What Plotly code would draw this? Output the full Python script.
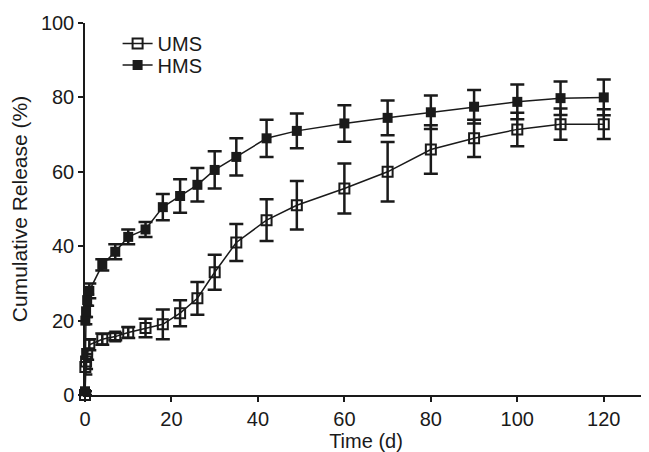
import plotly.graph_objects as go

time_d = [0, 0.083, 0.25, 0.5, 1, 4, 7, 10, 14, 18, 22, 26, 30, 35, 42, 49, 60, 70, 80, 90, 100, 110, 120]

ums_release = [0, 7.5, 9, 11, 13.5, 15, 15.7, 16.8, 18, 19, 22, 26, 33, 41, 47, 51, 55.5, 60, 66, 69, 71.4, 72.8, 72.8]
ums_error = [0, 2, 2, 1.5, 1.5, 1.5, 1, 1.5, 2.5, 4, 3.5, 4.4, 4.7, 5, 5.6, 6.5, 6.7, 8, 6.5, 5, 4.5, 4.2, 4]

hms_release = [1, 20, 22.5, 25.5, 28, 35, 38.5, 42.5, 44.5, 50.5, 53.5, 56.5, 60.5, 64, 69, 71, 73, 74.5, 76, 77.5, 78.8, 79.8, 80]
hms_error = [0, 1, 1.5, 1.5, 2, 1.5, 2, 2, 2, 3.5, 4.5, 4.5, 5, 5, 5, 4.7, 4.9, 4.7, 4.5, 4.5, 4.7, 4.5, 4.8]

x_ticks = [0, 20, 40, 60, 80, 100, 120]
y_ticks = [0, 20, 40, 60, 80, 100]

FONT = "Liberation Sans, Arial, sans-serif"
INK = "#1a1a1a"

fig = go.Figure()
fig.add_trace(go.Scatter(
    x=time_d, y=ums_release, name="UMS", mode="lines+markers",
    line=dict(color=INK, width=1.5),
    marker=dict(symbol="square-open", size=10, color=INK, line=dict(width=2, color=INK)),
    error_y=dict(type="data", array=ums_error, visible=True, color=INK, thickness=2.5, width=7),
    cliponaxis=False, legend="legend",
))
fig.add_trace(go.Scatter(
    x=time_d, y=hms_release, name="HMS", mode="lines+markers",
    line=dict(color=INK, width=1.5),
    marker=dict(symbol="square", size=10, color=INK, line=dict(width=0)),
    error_y=dict(type="data", array=hms_error, visible=True, color=INK, thickness=2.5, width=7),
    cliponaxis=False, legend="legend2",
))

leg_common = dict(x=0.058, xanchor="left", yanchor="middle",
                  bgcolor="rgba(0,0,0,0)", font=dict(size=20), itemwidth=30)

fig.update_layout(
    width=641, height=444,
    margin=dict(l=77, r=2, t=15, b=57),
    paper_bgcolor="white", plot_bgcolor="white",
    font=dict(family=FONT, size=20, color=INK),
    showlegend=True,
    legend=dict(y=0.945, **leg_common),
    legend2=dict(y=0.887, **leg_common),
)
fig.update_xaxes(
    range=[0, 130], tickmode="array", tickvals=x_ticks,
    showline=True, linecolor=INK, linewidth=1.5, mirror=False,
    ticks="outside", ticklen=5, tickwidth=1.5, tickcolor=INK,
    showgrid=False, zeroline=False, automargin=False,
    title=dict(text="Time (d)", font=dict(size=20), standoff=5),
)
fig.update_yaxes(
    range=[0, 100], tickmode="array", tickvals=y_ticks,
    showline=True, linecolor=INK, linewidth=1.5,
    ticks="outside", ticklen=5, tickwidth=1.5, tickcolor=INK,
    showgrid=False, zeroline=False, automargin=False,
    title=dict(text="Cumulative Release (%)", font=dict(size=21), standoff=9),
)

fig.write_html("out.html")
